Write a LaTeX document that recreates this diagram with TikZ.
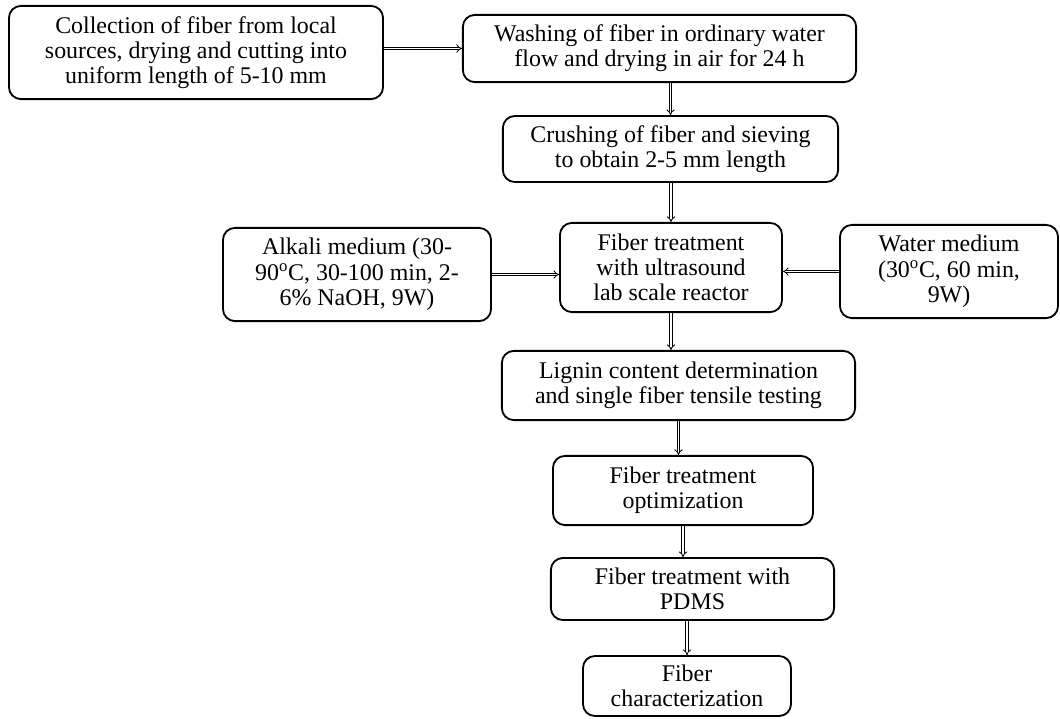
\documentclass[tikz,border=0pt]{standalone}
\usepackage{fontspec}
\setmainfont{Liberation Serif}
\usetikzlibrary{arrows.meta}

\begin{document}
\begin{tikzpicture}[x=0.025cm, y=-0.025cm,
        box/.style={draw, line width=1.3pt, rounded corners=0.3cm, align=center, inner sep=0pt, font=\fontsize{17pt}{18pt}\selectfont},
        flow/.style={double, double distance=1.4pt, line width=0.6pt, -{Implies}}]
        \useasboundingbox (0, 0) rectangle (1060, 718);

        % Nodes
        \node[box, minimum width=9.35cm, minimum height=2.33cm] (1) at (196, 52.5) {Collection of fiber from local\\ sources, drying and cutting into\\ uniform length of 5-10 mm};
        \node[box, minimum width=9.83cm, minimum height=1.68cm] (2) at (659.5, 48.5) {Washing of fiber in ordinary water\\ flow and drying in air for 24 h};
        \node[box, minimum width=8.38cm, minimum height=1.65cm] (3) at (670.5, 149) {Crushing of fiber and sieving\\ to obtain 2-5 mm length};
        \node[box, minimum width=5.55cm, minimum height=2.23cm] (4) at (671, 267.5) {Fiber treatment\\ with ultrasound\\ lab scale reactor};
        \node[box, minimum width=6.7cm, minimum height=2.33cm] (5) at (357, 274.5) {Alkali medium (30-\\ 90\textsuperscript{o}C, 30-100 min, 2-\\ 6\% NaOH, 9W)};
        \node[box, minimum width=5.45cm, minimum height=2.33cm] (6) at (949, 271.5) {Water medium\\ (30\textsuperscript{o}C, 60 min,\\ 9W)};
        \node[box, minimum width=8.83cm, minimum height=1.73cm] (7) at (678.5, 385.5) {Lignin content determination\\ and single fiber tensile testing};
        \node[box, minimum width=6.5cm, minimum height=1.73cm] (8) at (683, 490.5) {Fiber treatment\\ optimization};
        \node[box, minimum width=7.08cm, minimum height=1.55cm] (9) at (692.5, 589) {Fiber treatment with\\ PDMS};
        \node[box, minimum width=5.2cm, minimum height=1.5cm] (10) at (687, 686) {Fiber\\ characterization};

        % Edges
        \draw[flow] (1.east |- 2.west) -- (2.west);
        \draw[flow] (2.south -| 3.north) -- (3.north);
        \draw[flow] (3.south -| 4.north) -- (4.north);
        \draw[flow] (5.east) -- (5.east -| 4.west);
        \draw[flow] (6.west) -- (6.west -| 4.east);
        \draw[flow] (4.south) -- (4.south |- 7.north);
        \draw[flow] (7.south) -- (7.south |- 8.north);
        \draw[flow] (8.south) -- (8.south |- 9.north);
        \draw[flow] (9.south -| 10.north) -- (10.north);
    \end{tikzpicture}
\end{document}
